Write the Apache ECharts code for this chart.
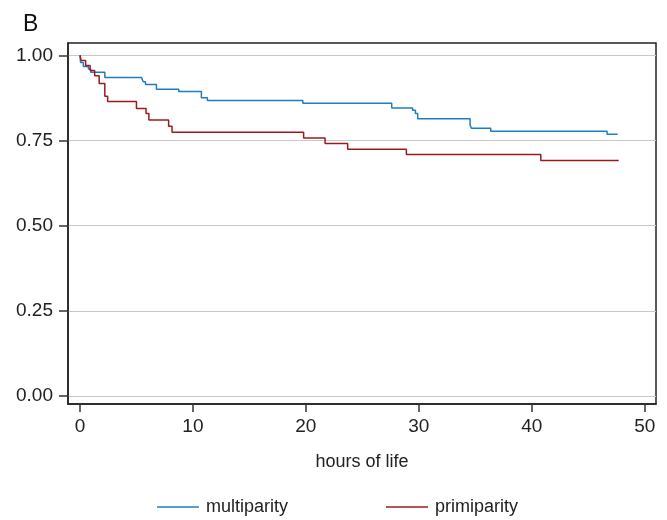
<!DOCTYPE html>
<html>
<head>
<meta charset="utf-8">
<script src="https://cdn.jsdelivr.net/npm/echarts@6/dist/echarts.min.js"></script>
<style>
  html, body { margin: 0; padding: 0; background: #fff; }
  #chart { width: 667px; height: 520px; }
</style>
</head>
<body>
<div id="chart"></div>
<script>
// Kaplan-Meier step data (time in hours, survival fraction)
const multiTimes = [0, 0.05, 0.3, 0.75, 0.95, 2.2, 5.45, 5.6, 5.8, 6.77, 8.75, 10.75, 11.28, 19.73, 27.6, 29.45, 29.7, 29.9, 34.54, 34.66, 36.37, 46.67, 47.6]
const multiSurv  = [1, 0.979, 0.967, 0.96, 0.95, 0.935, 0.93, 0.922, 0.914, 0.9, 0.894, 0.875, 0.867, 0.859, 0.845, 0.839, 0.829, 0.814, 0.795, 0.786, 0.777, 0.768, 0.768]

const primiTimes = [0, 0.1, 0.5, 0.9, 1.3, 1.7, 2.2, 2.45, 5.0, 5.85, 6.1, 7.85, 8.15, 19.8, 21.7, 23.7, 28.9, 40.8, 47.7]
const primiSurv  = [1, 0.985, 0.97, 0.955, 0.94, 0.917, 0.88, 0.864, 0.844, 0.829, 0.81, 0.792, 0.774, 0.757, 0.741, 0.724, 0.709, 0.691, 0.691]

const xTicks = [0, 10, 20, 30, 40, 50]
const yTicks = [0, 0.25, 0.5, 0.75, 1]

const seriesNames = ['multiparity', 'primiparity']
const colors = ['#1f7ec2', '#9c1a1c']

const font = "'Liberation Sans Narrow', 'Liberation Sans', Arial, sans-serif"

const toPairs = (xs, ys) => xs.map((x, i) => [x, ys[i]])

const chart = echarts.init(document.getElementById('chart'))

const option = {
    animation: false,
    title: {
        text: 'B',
        left: 18,
        top: 8,
        textStyle: { fontFamily: font, fontSize: 23, fontWeight: 'normal', color: '#111' }
    },
    legend: {
        left: 152,
        top: 493,
        icon: 'rect',
        itemWidth: 42,
        itemHeight: 1.5,
        itemGap: 98,
        textStyle: { fontFamily: font, fontSize: 18, color: '#222', padding: [0, 0, 0, 2] },
        data: seriesNames
    },
    grid: {
        left: 68,
        right: 11,
        top: 43,
        bottom: 116,
        show: true,
        borderColor: '#222',
        borderWidth: 1.5,
        containLabel: false
    },
    xAxis: {
        type: 'value',
        min: -1.06,
        max: 51,
        name: 'hours of life',
        nameLocation: 'middle',
        nameGap: 49,
        nameTextStyle: { fontFamily: font, fontSize: 18, color: '#222' },
        axisLine: { show: true, onZero: false, lineStyle: { color: '#222', width: 1.5 } },
        axisTick: { show: true, length: 8, customValues: xTicks, lineStyle: { color: '#333', width: 1.5 } },
        axisLabel: {
            customValues: xTicks,
            margin: 13,
            fontFamily: font,
            fontSize: 19,
            color: '#222'
        },
        splitLine: { show: false }
    },
    yAxis: {
        type: 'value',
        min: -0.0234,
        max: 1.036,
        axisLine: { show: true, onZero: false, lineStyle: { color: '#222', width: 1.5 } },
        axisTick: { show: true, length: 9, customValues: yTicks, lineStyle: { color: '#333', width: 1.5 } },
        axisLabel: {
            customValues: yTicks,
            margin: 15,
            fontFamily: font,
            fontSize: 19,
            color: '#222',
            formatter: v => v.toFixed(2)
        },
        splitLine: { show: true, lineStyle: { color: '#c8c8c8', width: 1 } }
    },
    series: [
        {
            name: seriesNames[0],
            type: 'line',
            step: 'end',
            symbol: 'none',
            color: colors[0],
            lineStyle: { width: 1.5 },
            data: toPairs(multiTimes, multiSurv)
        },
        {
            name: seriesNames[1],
            type: 'line',
            step: 'end',
            symbol: 'none',
            color: colors[1],
            lineStyle: { width: 1.5 },
            data: toPairs(primiTimes, primiSurv)
        }
    ]
}

chart.setOption(option)
</script>
</body>
</html>
